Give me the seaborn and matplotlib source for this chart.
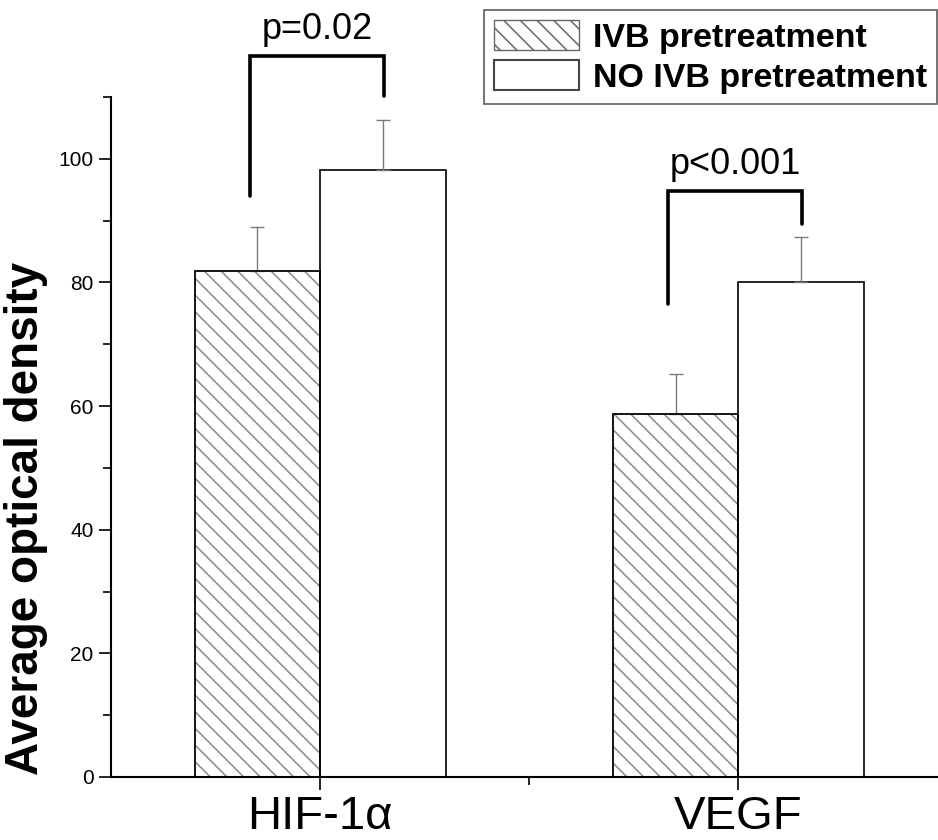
import numpy as np
import pandas as pd
import matplotlib
matplotlib.use("Agg")
import matplotlib.pyplot as plt
import seaborn as sns
from matplotlib.patches import Patch, Rectangle
from matplotlib.ticker import MultipleLocator

# datos
genes = ["HIF-1\u03b1", "VEGF"]
grupos = ["IVB pretreatment", "NO IVB pretreatment"]
media_ivb = [81.8, 58.7]
media_no_ivb = [98.2, 80.0]
err_ivb = [7.2, 6.5]
err_no_ivb = [8.1, 7.4]
p_textos = ["p=0.02", "p<0.001"]
# corchetes: (y pata izquierda, y arriba, y pata derecha)
corchetes = [(94.0, 116.6, 110.2), (76.5, 94.8, 89.5)]

df = pd.DataFrame({
    "gen": genes * 2,
    "grupo": [grupos[0]] * 2 + [grupos[1]] * 2,
    "valor": media_ivb + media_no_ivb,
})

sns.set_theme(style="ticks")
plt.rcParams["font.family"] = ["Liberation Sans", "DejaVu Sans"]
plt.rcParams["hatch.linewidth"] = 1.1
for k in ["text.color", "axes.labelcolor", "xtick.color", "ytick.color", "axes.edgecolor"]:
    plt.rcParams[k] = "black"

fig = plt.figure(figsize=(9.38, 8.4), dpi=100)
ax = fig.add_axes([111 / 938, 1 - 777 / 840, (937 - 111) / 938, (777 - 97) / 840])

sns.barplot(data=df, x="gen", y="valor", hue="grupo", hue_order=grupos,
            order=genes, palette=["white", "white"], width=0.6,
            edgecolor="black", linewidth=1.2, errorbar=None, legend=False, ax=ax)

# hachurado gris para el grupo IVB (los primeros parches) + contorno negro
barras = [p for p in ax.patches]
for p in barras[:2]:
    p.set_hatch("\\\\")
    p.set_edgecolor("#8a8a8a")
    ax.add_patch(Rectangle((p.get_x(), p.get_y()), p.get_width(), p.get_height(),
                           fill=False, edgecolor="black", lw=1.2, zorder=p.get_zorder() + 0.1))

# barras de error (solo hacia arriba)
medias = media_ivb + media_no_ivb
errores = err_ivb + err_no_ivb
for p, m, e in zip(barras, medias, errores):
    xc = p.get_x() + p.get_width() / 2
    ax.errorbar(xc, m, yerr=[[0], [e]], fmt="none", ecolor="#7a7a7a",
                elinewidth=1.0, capsize=5, capthick=1.0, zorder=1)

# corchetes de significancia
for i, ((y_izq, y_top, y_der), txt) in enumerate(zip(corchetes, p_textos)):
    x_izq = i - 0.167
    x_der = i + 0.152
    ax.plot([x_izq, x_izq, x_der, x_der], [y_izq, y_top, y_top, y_der],
            color="black", lw=2.6, clip_on=False, solid_joinstyle="miter")
    ax.text((x_izq + x_der) / 2, y_top + 1.5, txt, ha="center", va="bottom",
            fontsize=26, clip_on=False)

ax.set_xlim(-0.5, 1.475)
ax.set_ylim(0, 110)
ax.yaxis.set_major_locator(MultipleLocator(20))
ax.yaxis.set_minor_locator(MultipleLocator(10))
ax.set_xticks([0, 1])
ax.set_xticks([0.5], minor=True)
ax.set_xticklabels(genes, fontsize=34)
ax.tick_params(axis="y", labelsize=15, length=9, width=1.2)
ax.tick_params(axis="y", which="minor", length=6, width=1.2)
ax.tick_params(axis="x", length=9, width=1.2, pad=4)
ax.tick_params(axis="x", which="minor", length=6, width=1.2)
ax.set_xlabel("")
ax.set_ylabel("Average optical density", fontsize=33, fontweight="bold")
ax.yaxis.set_label_coords(-63 / 826, (777 - 518) / 680)
for s in ["left", "bottom"]:
    ax.spines[s].set_linewidth(1.5)
sns.despine(ax=ax, top=True, right=True)

manijas = [Patch(facecolor="white", edgecolor="#666666", hatch="\\\\", lw=1.0),
           Patch(facecolor="white", edgecolor="#444444", lw=1.5)]
leg = fig.legend(manijas, grupos, loc="upper right",
                 bbox_to_anchor=(937 / 938, 1 - 10 / 840),
                 prop={"size": 24.5, "weight": "bold"}, frameon=True,
                 fancybox=False, edgecolor="#333333", handlelength=2.5,
                 handleheight=0.95, handletextpad=0.4, borderpad=0.3,
                 labelspacing=0.2, borderaxespad=0)
leg.get_frame().set_linewidth(1.2)

fig.savefig("out.png", dpi=100)
